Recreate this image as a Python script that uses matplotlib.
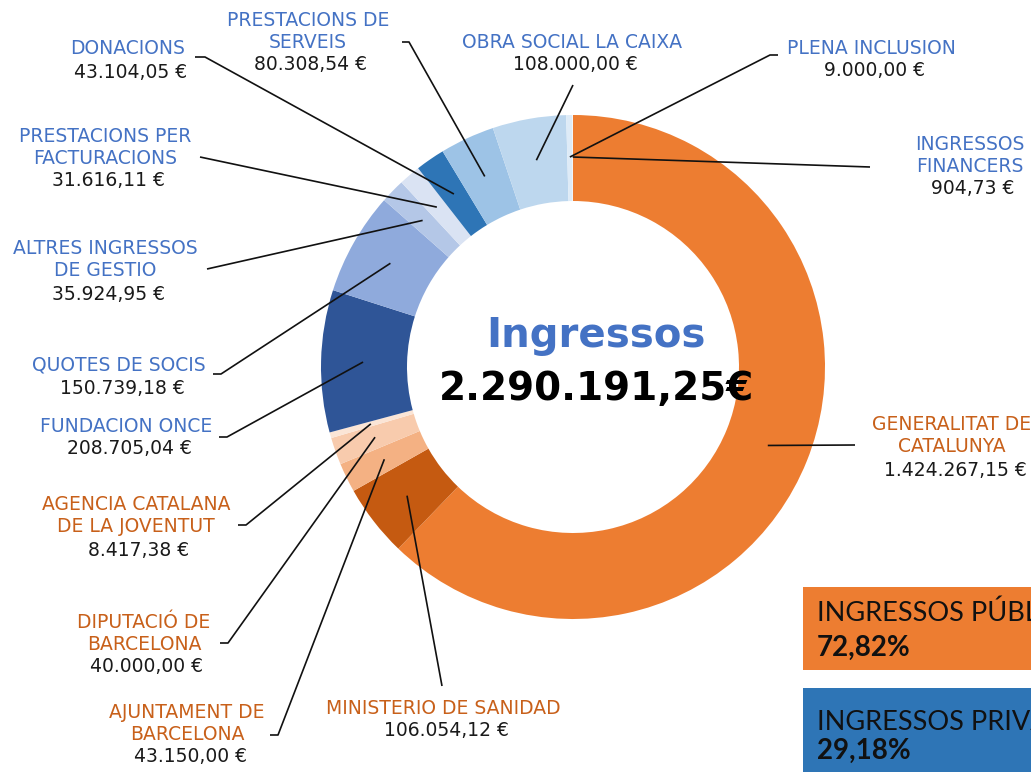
"""
Donut d'ingressos amb etiquetes i caixes de resum
"""
import matplotlib
matplotlib.use('Agg')
import matplotlib.pyplot as plt
import numpy as np

W, H = 1031, 772

# data (ordre horari des de dalt)
names = ['GENERALITAT DE\nCATALUNYA', 'MINISTERIO DE SANIDAD', 'AJUNTAMENT DE\nBARCELONA',
         'DIPUTACIÓ DE\nBARCELONA', 'AGENCIA CATALANA\nDE LA JOVENTUT', 'FUNDACION ONCE',
         'QUOTES DE SOCIS', 'ALTRES INGRESSOS\nDE GESTIO', 'PRESTACIONS PER\nFACTURACIONS',
         'DONACIONS', 'PRESTACIONS DE\nSERVEIS', 'OBRA SOCIAL LA CAIXA', 'PLENA INCLUSION',
         'INGRESSOS\nFINANCERS']
values = [1424267.15, 106054.12, 43150.00, 40000.00, 8417.38, 208705.04, 150739.18,
          35924.95, 31616.11, 43104.05, 80308.54, 108000.00, 9000.00, 904.73]
public = [True, True, True, True, True, False, False, False, False, False, False, False, False, False]
total_text = '2.290.191,25€'
pct_public = '72,82%'
pct_private = '29,18%'

colors = ['#ED7D31', '#C55A11', '#F4B183', '#F8CBAD', '#FBE5D6', '#2F5597', '#8FAADC',
          '#B4C7E7', '#DAE3F3', '#2E75B6', '#9DC3E6', '#BDD7EE', '#DEEBF7', '#F2F7FC']

# layout in pixel coords (y from top): text centre x, first line centre y, leader path
label_pos = [(952, 425), (443, 708), (187, 712), (144, 622), (136, 505), (126, 426),
             (119, 365), (105, 249), (105, 136), (128, 49), (308, 20), (572, 42),
             (871, 48), (970, 144)]
leaders = [[(855, 445)], [(442, 686)], [(270, 735), (278, 735)], [(220, 643), (228, 643)],
           [(238, 525), (246, 525)], [(219, 437), (227, 437)], [(213, 374), (221, 374)],
           [(207, 269)], [(200, 157)], [(195, 57), (205, 57)], [(402, 42), (409, 42)],
           [(573, 85)], [(778, 55), (770, 55)], [(870, 167)]]

cx, cy, R = 573, H - 367, 252
line_h = 22


def fmt(v):
    s = f'{v:,.2f}'.replace(',', 'X').replace('.', ',').replace('X', '.')
    return s + ' €'


fig = plt.figure(figsize=(W / 100, H / 100), dpi=100)
ax = fig.add_axes([0, 0, 1, 1])

wedges, _ = ax.pie(values, colors=colors, startangle=90, counterclock=False,
                   radius=R, center=(cx, cy),
                   wedgeprops=dict(width=86, edgecolor='none', linewidth=0))
ax.set_xlim(0, W)
ax.set_ylim(0, H)
ax.set_aspect('auto')
ax.axis('off')

for w, name, v, pub, (tx, ty), path in zip(wedges, names, values, public, label_pos, leaders):
    mid = np.deg2rad((w.theta1 + w.theta2) / 2)
    ex, ey = cx + 210 * np.cos(mid), cy + 210 * np.sin(mid)
    xs = [p[0] for p in path] + [ex]
    ys = [H - p[1] for p in path] + [ey]
    ax.plot(xs, ys, color='#111111', lw=1.2, solid_capstyle='butt')

    lines = name.split('\n')
    col = '#C8601A' if pub else '#4472C4'
    for i, ln in enumerate(lines):
        ax.text(tx, H - (ty + i * line_h), ln, color=col, fontsize=13.5,
                ha='center', va='center', family='DejaVu Sans')
    ax.text(tx + 3, H - (ty + len(lines) * line_h + 1), fmt(v), color='#1a1a1a',
            fontsize=13.5, ha='center', va='center', family='DejaVu Sans')

# centre
ax.text(596, H - 347, 'Ingressos', color='#4472C4', fontsize=29, fontweight='bold',
        ha='center', va='baseline')
ax.text(597, H - 400, total_text, color='black', fontsize=28, fontweight='bold',
        ha='center', va='baseline')

# caixes resum
ax.add_patch(plt.Rectangle((803, H - 670), 300, 83, color='#ED7D31', lw=0))
ax.add_patch(plt.Rectangle((803, H - 772), 300, 84, color='#2E75B6', lw=0))
box_font = ['Lato', 'DejaVu Sans']
ax.text(817, H - 613, 'INGRESSOS PÚBLICS', fontsize=19.5, family=box_font,
        color='#111111', va='center', ha='left')
ax.text(817, H - 648, pct_public, fontsize=20, fontweight='bold', family=box_font,
        color='#111111', va='center', ha='left')
ax.text(817, H - 722, 'INGRESSOS PRIVATS', fontsize=19.5, family=box_font,
        color='#111111', va='center', ha='left')
ax.text(817, H - 751, pct_private, fontsize=20, fontweight='bold', family=box_font,
        color='#111111', va='center', ha='left')

fig.savefig('out.png', dpi=100)
